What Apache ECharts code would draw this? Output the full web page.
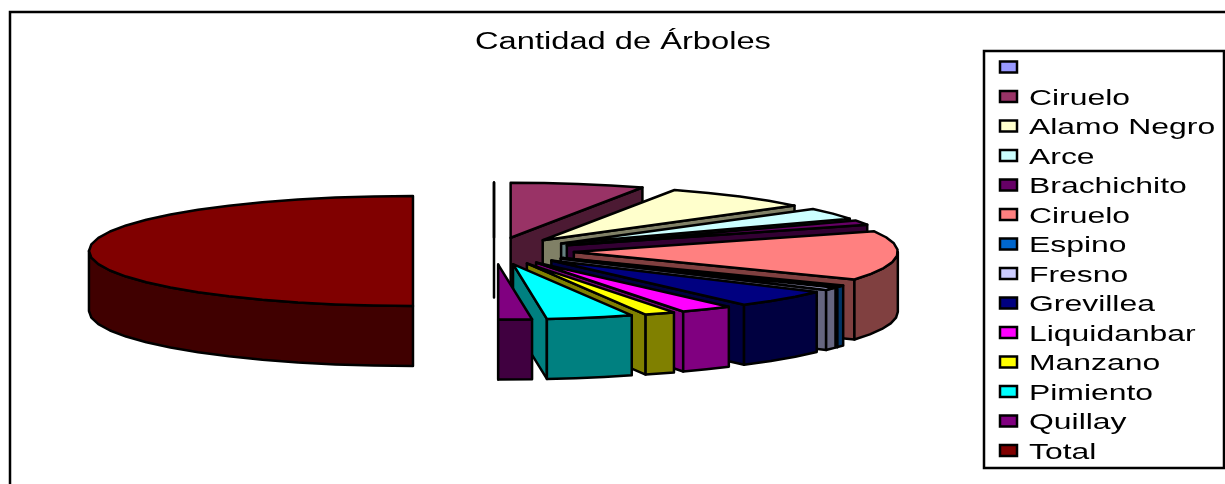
<!DOCTYPE html>
<html>
<head>
<meta charset="utf-8">
<title>Cantidad de Árboles</title>
<script src="https://cdn.jsdelivr.net/npm/echarts@6/dist/echarts.min.js"></script>
<style>
  html, body { margin: 0; padding: 0; background: #fff; }
  #chart { width: 1225px; height: 484px; }
</style>
</head>
<body>
<div id="chart"></div>
<script>
// valores
var categories = ["", "Ciruelo", "Alamo Negro", "Arce", "Brachichito", "Ciruelo", "Espino", "Fresno", "Grevillea", "Liquidanbar", "Manzano", "Pimiento", "Quillay", "Total"];
var treeCounts = [0, 48, 54, 24, 10, 104, 4, 6, 37, 19, 11, 31, 12, 360];
var topColors = ["#9999ff", "#993366", "#ffffcc", "#ccffff", "#660066", "#ff8080", "#0066cc", "#ccccff", "#000080", "#ff00ff", "#ffff00", "#00ffff", "#800080", "#800000"];
var sideColors = ["#4c4c80", "#4c1a33", "#808066", "#668080", "#330033", "#804040", "#003366", "#666680", "#000040", "#800080", "#808000", "#008080", "#400040", "#400000"];

// geometria del pastel 3D
var cx = 494, cy = 251, rx = 324, ry = 55, depth = 60;
var explode = 0.247;
var line = { stroke: "#000", lineWidth: 2.5, lineJoin: "round" };

var sum = treeCounts.reduce(function (a, b) { return a + b; }, 0);
var starts = [];
var acc = 0;
treeCounts.forEach(function (v) {
  starts.push(acc);
  acc += v / sum * 360;
});

function rad(d) { return d * Math.PI / 180; }

function renderSlice(params, api) {
  var i = params.dataIndex;
  var a = starts[i];
  var b = a + api.value(0) / sum * 360;
  var m = (a + b) / 2;
  var tipX = cx + explode * rx * Math.sin(rad(m));
  var tipY = cy - explode * ry * Math.cos(rad(m));
  if (i === categories.length - 1) tipX -= 1;

  function rim(t, dz) {
    return [tipX + rx * Math.sin(rad(t)), tipY - ry * Math.cos(rad(t)) + dz];
  }
  function arc(from, to, dz) {
    var pts = [];
    var n = Math.max(1, Math.ceil((to - from) / 7));
    for (var k = 0; k <= n; k++) {
      pts.push(rim(from + (to - from) * k / n, dz));
    }
    return pts;
  }
  function face(points, fill) {
    return {
      type: "polygon",
      shape: { points: points },
      style: { fill: fill, stroke: line.stroke, lineWidth: line.lineWidth, lineJoin: line.lineJoin }
    };
  }

  var children = [];
  // cara de corte
  if (b <= 180) {
    children.push(face([[tipX, tipY], rim(b, 0), rim(b, depth), [tipX, tipY + depth]], sideColors[i]));
  }
  // borde curvo frontal
  var from = Math.max(a, 90), to = Math.min(b, 270);
  if (to > from) {
    children.push(face(arc(from, to, 0).concat(arc(from, to, depth).reverse()), sideColors[i]));
  }
  // cara superior
  children.push(face([[tipX, tipY]].concat(arc(a, b, 0)), topColors[i]));
  return { type: "group", children: children };
}

// leyenda y titulo
var graphics = [
  { type: "rect", shape: { x: 10, y: 12, width: 1400, height: 700 }, style: { fill: "#fff", stroke: "#000", lineWidth: 2.5 }, z: -10 },
  { type: "text", x: 475, y: 43, scaleX: 1.42, style: { text: "Cantidad de Árboles", fontFamily: "Liberation Sans", fontSize: 23, fill: "#000", verticalAlign: "middle" } },
  { type: "rect", shape: { x: 984, y: 51, width: 240, height: 417 }, style: { fill: "#fff", stroke: "#000", lineWidth: 2.5 } }
];
categories.forEach(function (name, i) {
  var y = 67 + i * 29.5;
  graphics.push({ type: "rect", shape: { x: 1000, y: y - 5.5, width: 17, height: 11 }, style: { fill: topColors[i], stroke: "#000", lineWidth: 2.5 } });
  graphics.push({ type: "text", x: 1029, y: y + 2, scaleX: 1.45, style: { text: name, fontFamily: "Liberation Sans", fontSize: 22, fill: "#000", verticalAlign: "middle" } });
});

var myChart = echarts.init(document.getElementById("chart"));
myChart.setOption({
  animation: false,
  backgroundColor: "#fff",
  graphic: graphics,
  series: [{
    type: "custom",
    coordinateSystem: "none",
    silent: true,
    data: treeCounts.map(function (v) { return [v]; }),
    renderItem: renderSlice
  }]
});
</script>
</body>
</html>
